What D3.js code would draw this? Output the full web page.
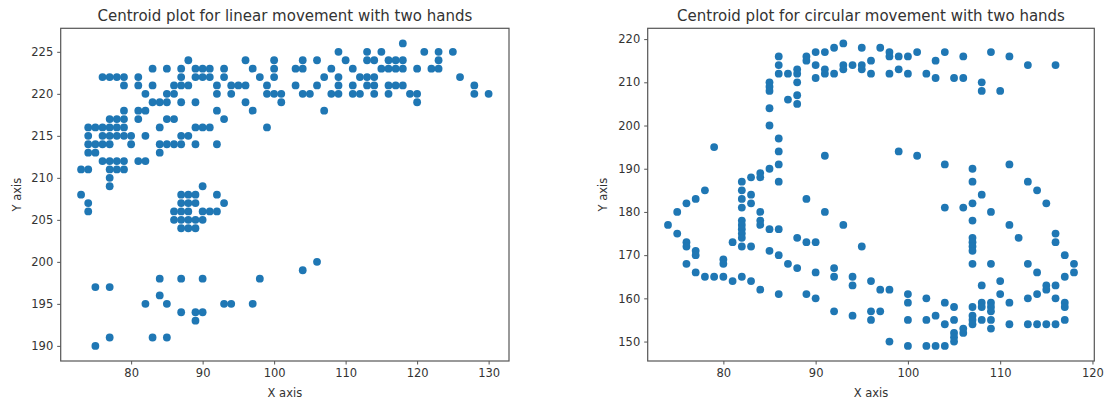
<!DOCTYPE html>
<html>
<head>
<meta charset="utf-8">
<script src="https://cdn.jsdelivr.net/npm/d3@7"></script>
<style>
  body { margin: 0; background: #fff; }
  text { font-family: "DejaVu Sans", sans-serif; fill: #333; }
</style>
</head>
<body>
<div class="div1"></div>
<script>
// linear movement: [x, y] centroids
const linearPoints = [
  [118,226],
  [109,225],[113,225],[115,225],[121,225],[123,225],[125,225],
  [88,224],[96,224],[100,224],[104,224],[106,224],[110,224],[113,224],[114,224],[116,224],[117,224],[118,224],[123,224],
  [83,223],[85,223],[87,223],[89,223],[90,223],[91,223],[93,223],[97,223],[100,223],[103,223],[104,223],[108,223],[111,223],[115,223],[116,223],[117,223],[118,223],[120,223],[122,223],[123,223],
  [76,222],[77,222],[78,222],[79,222],[81,222],[87,222],[89,222],[90,222],[91,222],[93,222],[98,222],[100,222],[107,222],[109,222],[112,222],[113,222],[114,222],[126,222],
  [79,221],[81,221],[83,221],[86,221],[87,221],[88,221],[92,221],[94,221],[95,221],[96,221],[99,221],[103,221],[106,221],[109,221],[111,221],[113,221],[114,221],[116,221],[117,221],[118,221],[128,221],
  [82,220],[85,220],[86,220],[92,220],[94,220],[99,220],[100,220],[101,220],[104,220],[105,220],[108,220],[109,220],[111,220],[112,220],[114,220],[116,220],[119,220],[120,220],[128,220],[130,220],
  [83,219],[84,219],[85,219],[87,219],[89,219],[96,219],[101,219],[120,219],
  [79,218],[81,218],[82,218],[92,218],[97,218],[107,218],
  [77,217],[78,217],[79,217],[81,217],[85,217],[86,217],[93,217],
  [74,216],[75,216],[76,216],[77,216],[78,216],[79,216],[84,216],[89,216],[90,216],[91,216],[99,216],
  [74,215],[76,215],[77,215],[78,215],[79,215],[80,215],[82,215],[87,215],[88,215],
  [74,214],[75,214],[76,214],[77,214],[80,214],[84,214],[85,214],[86,214],[87,214],[89,214],[92,214],
  [74,213],[75,213],[84,213],
  [76,212],[77,212],[78,212],[79,212],[81,212],[82,212],
  [73,211],[74,211],[77,211],[78,211],[79,211],
  [77,210],
  [77,209],[90,209],
  [73,208],[87,208],[88,208],[89,208],[92,208],
  [74,207],[87,207],[88,207],[89,207],[93,207],
  [74,206],[86,206],[87,206],[88,206],[90,206],[91,206],[92,206],
  [86,205],[87,205],[88,205],[89,205],[90,205],
  [87,204],[88,204],[89,204],
  [106,200],[104,199],
  [84,198],[87,198],[90,198],[98,198],
  [75,197],[77,197],
  [84,196],
  [82,195],[85,195],[93,195],[94,195],[97,195],
  [87,194],[89,194],[90,194],
  [89,193],
  [77,191],[83,191],[85,191],
  [75,190]
];

// circular movement: [x, y] centroids
const circularPoints = [
  [93,219],[92,218],[90,217],[91,217],[86,216],[89,216],[89,215],[86,214],[90,214],[91,213],[91,212],[92,212],
  [93,214],[93,213],[86,212],[87,212],[88,213],[88,212],[88,210],[88,207],[88,205],[87,206],[90,211],
  [85,210],[85,209],[85,208],[85,204],[85,200],[86,197],[86,194],[86,191],[85,190],[84,189],[84,188],
  [83,188],[82,187],[86,187],[79,195],[91,193],[78,185],[82,185],[83,184],
  [95,218],[97,218],[98,217],[98,216],[99,216],[100,216],[101,217],[104,217],[103,215],[106,216],[109,217],[111,216],
  [94,214],[95,214],[95,213],[96,215],[113,214],[116,214],[96,212],[98,212],[99,213],[100,212],[102,212],
  [103,211],[105,211],[106,211],[108,210],[108,208],[110,208],
  [99,194],[101,193],[104,191],[107,190],[111,191],[107,187],[113,187],
  [82,183],[82,181],[83,182],[77,183],[76,182],[75,180],[74,177],[75,175],[76,173],[76,172],[77,171],[77,170],
  [76,168],[77,166],[78,165],[79,165],[80,165],[80,169],[80,168],[81,164],[82,165],[83,164],[84,162],
  [86,161],[89,161],[90,160],[92,157],[94,156],
  [82,178],[82,177],[82,176],[82,175],[82,174],[82,172],[83,172],[81,173],[84,180],[84,178],[84,177],
  [85,176],[86,176],[85,171],[86,170],[87,168],[88,167],[88,174],[89,173],[90,173],[89,183],[91,180],[93,177],
  [90,166],[92,167],[92,165],[94,165],[94,163],
  [95,172],[96,164],[97,162],[98,162],[96,157],[96,155],[97,157],[98,150],
  [100,161],[100,159],[100,155],[100,149],[102,160],[102,155],[102,149],[103,156],[103,149],[104,149],
  [104,159],[104,154],[105,158],[105,155],[105,152],[105,151],[105,150],[106,153],[106,152],
  [107,158],[107,156],[107,155],[107,154],[108,163],[108,159],[108,158],[108,155],
  [109,159],[109,158],[109,157],[109,155],[109,153],[110,164],[110,161],[111,159],[111,154],
  [113,160],[113,154],[114,161],[114,154],[115,163],[115,162],[115,154],[116,163],[116,160],[116,154],
  [117,159],[117,158],[117,155],[117,165],[118,168],[118,166],[117,170],[116,175],[116,173],
  [115,182],[114,185],[112,174],[111,177],[113,168],[114,166],
  [104,181],[106,181],[107,182],[108,184],[109,180],[107,178],[107,174],[107,173],[107,172],[107,171],[107,168],[109,168]
];

const linearXTicks = [80, 90, 100, 110, 120, 130];
const linearYTicks = [190, 195, 200, 205, 210, 215, 220, 225];
const circularXTicks = [80, 90, 100, 110, 120];
const circularYTicks = [150, 160, 170, 180, 190, 200, 210, 220];

const titles = ["Centroid plot for linear movement with two hands",
                "Centroid plot for circular movement with two hands"];

const W = 1109, H = 405;
const svg = d3.select(".div1")
  .append("svg")
  .attr("width", W)
  .attr("height", H);

// pad extent by 5% like matplotlib autoscale
function padded(vals) {
  let [lo, hi] = d3.extent(vals);
  let m = (hi - lo) * 0.05;
  return [lo - m, hi + m];
}

function drawPanel(box, points, xTicks, yTicks, title) {
  let w = box.right - box.left;
  let h = box.bottom - box.top;
  let g = svg.append("g")
    .attr("transform", "translate(" + box.left + "," + box.top + ")");

  let x = d3.scaleLinear().domain(padded(points.map(d => d[0]))).range([0, w]);
  let y = d3.scaleLinear().domain(padded(points.map(d => d[1]))).range([h, 0]);

  g.selectAll(null)
    .data(points)
    .enter()
    .append("circle")
    .attr("cx", d => x(d[0]))
    .attr("cy", d => y(d[1]))
    .attr("r", 3.9)
    .attr("fill", "#1f77b4");

  let bottomAxis = d3.axisBottom(x).tickValues(xTicks).tickSize(3.5).tickPadding(4).tickSizeOuter(0);
  let gx = g.append("g")
    .attr("transform", "translate(0," + h + ")")
    .call(bottomAxis);
  let leftAxis = d3.axisLeft(y).tickValues(yTicks).tickSize(3.5).tickPadding(4).tickSizeOuter(0);
  let gy = g.append("g").call(leftAxis);

  [gx, gy].forEach(a => {
    a.select(".domain").remove();
    a.selectAll("line").attr("stroke", "#555");
    a.selectAll("text")
      .attr("font-size", "11.5px")
      .attr("fill", "#333")
      .attr("font-family", "DejaVu Sans, sans-serif");
  });

  g.append("rect")
    .attr("width", w)
    .attr("height", h)
    .attr("fill", "none")
    .attr("stroke", "#555")
    .attr("stroke-width", 1.2);

  g.append("text")
    .attr("x", w / 2)
    .attr("y", -7)
    .attr("text-anchor", "middle")
    .attr("font-size", "15px")
    .attr("fill", "#222")
    .text(title);

  g.append("text")
    .attr("x", w / 2)
    .attr("y", h + 36)
    .attr("text-anchor", "middle")
    .attr("font-size", "11.5px")
    .text("X axis");

  g.append("text")
    .attr("transform", "rotate(-90)")
    .attr("x", -h / 2)
    .attr("y", box.yLabel - box.left)
    .attr("text-anchor", "middle")
    .attr("font-size", "11.5px")
    .text("Y axis");
}

drawPanel({left: 60.7, right: 509, top: 28.3, bottom: 361, yLabel: 21},
  linearPoints, linearXTicks, linearYTicks, titles[0]);
drawPanel({left: 647.7, right: 1094.3, top: 28.3, bottom: 361, yLabel: 607},
  circularPoints, circularXTicks, circularYTicks, titles[1]);
</script>
</body>
</html>
